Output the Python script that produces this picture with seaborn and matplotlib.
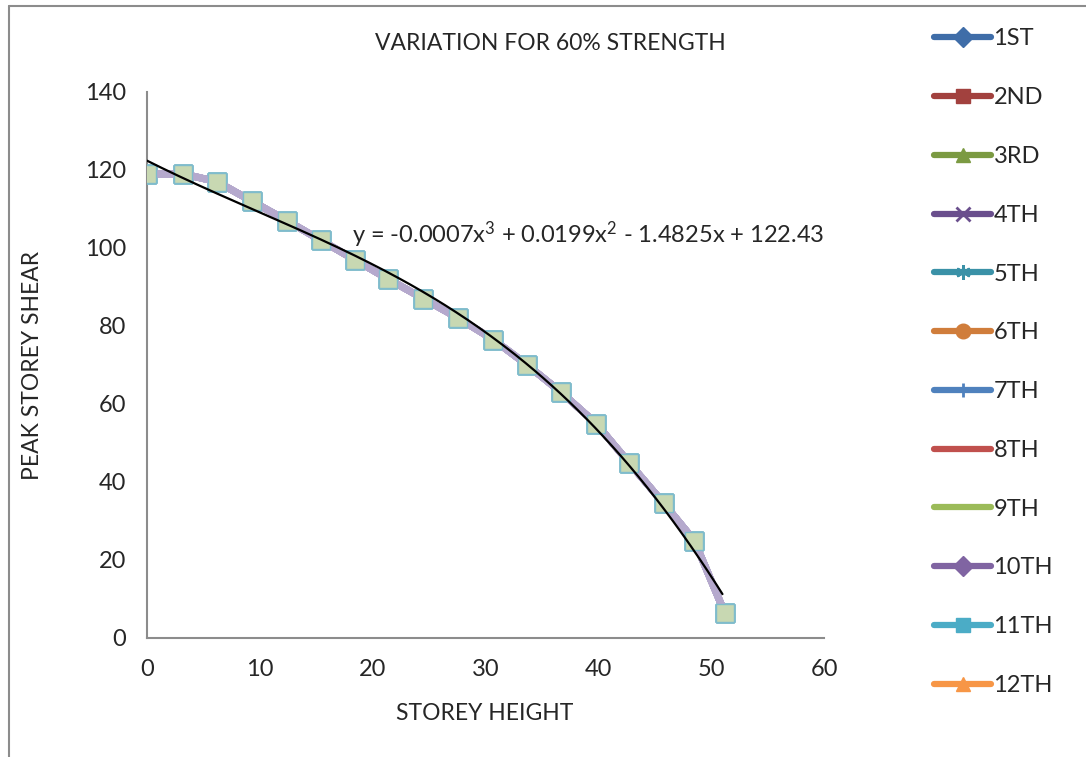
import numpy as np
import pandas as pd
import matplotlib
matplotlib.use("Agg")
import matplotlib.pyplot as plt
import seaborn as sns
from matplotlib.lines import Line2D

# storey height (x) and peak storey shear (y)
storey_height = [0, 3.2, 6.2, 9.3, 12.4, 15.4, 18.4, 21.4, 24.5, 27.6,
                 30.7, 33.7, 36.7, 39.8, 42.7, 45.8, 48.5, 51.2]
peak_shear = [119, 119, 117, 112, 107, 102, 97, 92, 87, 82,
              76.5, 70, 63, 55, 45, 34.5, 25, 6.5]

series_labels = ["1ST", "2ND", "3RD", "4TH", "5TH", "6TH",
                 "7TH", "8TH", "9TH", "10TH", "11TH", "12TH"]
series_colors = ["#3f6da8", "#a2413e", "#7b9a42", "#6a4f8d", "#3a91a7", "#d07d3b",
                 "#4f81bd", "#c0504d", "#9bbb59", "#8064a2", "#4bacc6", "#f79646"]
series_markers = ["D", "s", "^", "x", (6, 2, 0), "o", "|", None, None, "D", "s", "^"]

trend_label = r"y = -0.0007x$^{3}$ + 0.0199x$^{2}$ - 1.4825x + 122.43"

sns.set_style("white")
plt.rcParams["font.family"] = ["Lato", "DejaVu Sans"]
plt.rcParams["mathtext.fontset"] = "custom"
plt.rcParams["mathtext.rm"] = "Lato"
plt.rcParams["mathtext.default"] = "rm"

fig = plt.figure(figsize=(10.86, 7.57), dpi=100)
ax = fig.add_axes([147 / 1086, 119 / 757, 677 / 1086, 546 / 757])

df = pd.DataFrame({"height": storey_height, "shear": peak_shear})

# all twelve storeys give the same curve, so they sit on top of each other
for lab in series_labels:
    sns.lineplot(data=df, x="height", y="shear", ax=ax, color="#b5a9cd",
                 linewidth=5, marker="s", markersize=13,
                 markerfacecolor="#c8d8b2", markeredgecolor="#7fbccc",
                 markeredgewidth=1.0, legend=False, zorder=3)

# third order polynomial trendline, as in the spreadsheet
coef = np.polyfit(storey_height, peak_shear, 3)
xt = np.linspace(0, 51.0, 200)
ax.plot(xt, np.polyval(coef, xt), color="black", lw=1.6, zorder=4)
ax.text(18.2, 103.3, trend_label, fontsize=17, ha="left", va="center")

ax.set_xlim(0, 60)
ax.set_ylim(0, 140)
ax.set_xticks(range(0, 61, 10))
ax.set_yticks(range(0, 141, 20))
ax.tick_params(axis="both", length=0, labelsize=17, pad=15)
ax.set_xlabel("")
ax.set_ylabel("")
for side in ["top", "right"]:
    ax.spines[side].set_visible(False)
for side in ["left", "bottom"]:
    ax.spines[side].set_color("#8c8c8c")
    ax.spines[side].set_linewidth(1.5)

fig.text(550 / 1086, 1 - 43 / 757, "VARIATION FOR 60% STRENGTH", fontsize=16.5,
         ha="center", va="center")
fig.text(33 / 1086, 1 - 365 / 757, "PEAK STOREY SHEAR", fontsize=16.5,
         rotation=90, ha="center", va="center")
fig.text(485 / 1086, 1 - 713 / 757, "STOREY HEIGHT", fontsize=16.5,
         ha="center", va="center")

handles = [Line2D([], [], color=c, lw=4.5, marker=m, markersize=10.5,
                  markeredgewidth=2 if m in ("x", "|", (6, 2, 0)) else 1,
                  solid_capstyle="round")
           for c, m in zip(series_colors, series_markers)]
fig.legend(handles, series_labels, loc="upper left",
           bbox_to_anchor=(925 / 1086, 1 - 19 / 757), frameon=False,
           fontsize=17, handlelength=2.4, handletextpad=0.1,
           labelspacing=1.6, borderaxespad=0)

# chart area border (only top and left edges fall inside the image)
fx, fy = 8.5 / 1086, 1 - 5.5 / 757
fig.add_artist(Line2D([fx, 1.0], [fy, fy], color="#8c8c8c", lw=1.5,
                      transform=fig.transFigure))
fig.add_artist(Line2D([fx, fx], [0.0, fy], color="#8c8c8c", lw=1.5,
                      transform=fig.transFigure))

fig.savefig("out.png", dpi=100)
